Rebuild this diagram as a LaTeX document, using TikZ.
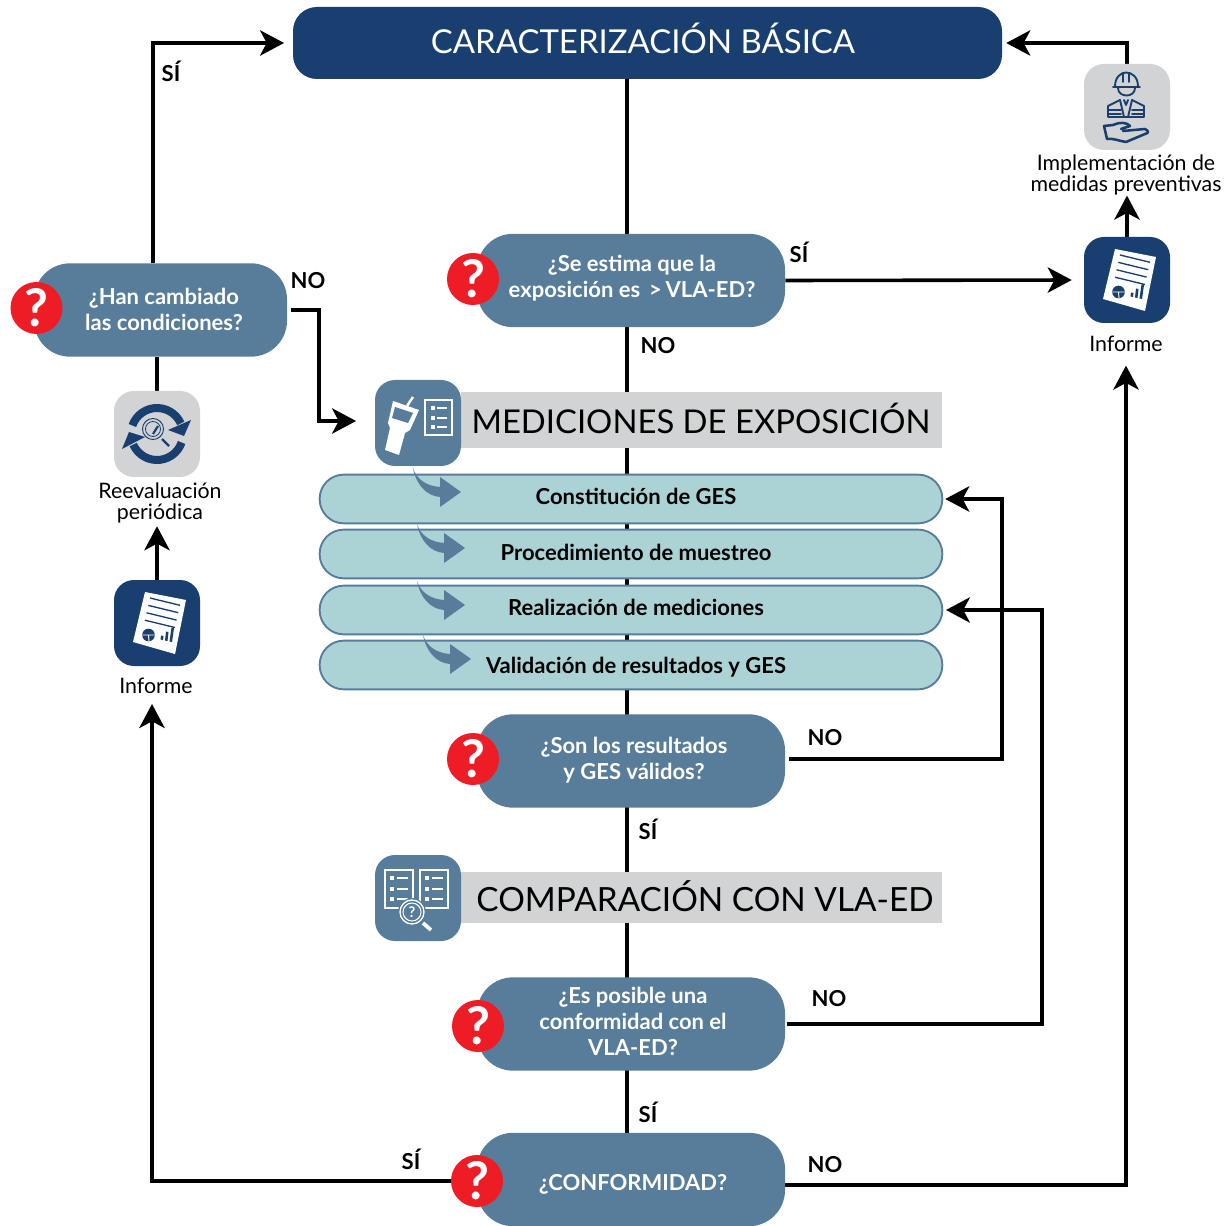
\documentclass[tikz,border=0pt]{standalone}
\usepackage{fontspec}
\setmainfont{Lato}
\usetikzlibrary{arrows.meta,calc,backgrounds}
\definecolor{navy}{HTML}{183F6F}
\definecolor{steel}{HTML}{577D9B}
\definecolor{pale}{HTML}{D1D3D4}
\definecolor{teal}{HTML}{ABD3D6}
\definecolor{qred}{HTML}{EE1C25}
\newcommand{\fs}[1]{\fontsize{#1}{#1}\selectfont}
\tikzset{
  x=0.75pt,y=-0.75pt,
  conn/.style={draw=black,line width=2.7pt},
  arr/.style={conn,-{Stealth[length=18pt,width=19pt,inset=5pt]}},
  iconbox/.style={rectangle,rounded corners=15pt,minimum width=64.5pt,minimum height=64.5pt,inner sep=0pt},
  decision/.style={rectangle,rounded corners=27pt,fill=steel,text=white,minimum height=70pt,inner sep=0pt,align=center,font=\fs{16.5}\bfseries,text depth=0pt},
  band/.style={rectangle,fill=pale,inner sep=0pt,minimum width=360.75pt},
  bar/.style={rectangle,rounded corners=18pt,fill=teal,draw=steel,line width=1.4pt,minimum width=467pt,minimum height=36.5pt,inner sep=0pt},
  bartext/.style={font=\fs{16.5}\bfseries,text=black,inner sep=0pt},
  lab/.style={font=\fs{16.5}\bfseries,text=black,inner sep=0pt},
  captxt/.style={font=\fs{16},text=black,inner sep=0pt,align=center},
  qmark/.style={circle,fill=qred,minimum size=39pt,inner sep=0pt,text=white,font=\fs{39}\bfseries},
  bend arrow/.pic={
    \fill[steel] (0,0) .. controls (3,16) and (13,28) .. (27,29) -- (27,39) -- (48,24) -- (27,9) -- (27,19)
      .. controls (14,18) and (4,12) .. (0,0) -- cycle;
  },
  report/.pic={
    \fill[white] (-12,-31) -- (29,-23) -- (18,31) -- (-24,19) -- cycle;
    \foreach \i in {0,1,2,3}
      \draw[navy,line width=1pt] ({-7-1.7*\i},{-25+7.4*\i}) -- ({23-1.7*\i},{-17.7+7.4*\i});
    \fill[navy] (-8.5,12) circle[radius=6.3];
    \draw[white,line width=.7pt] (-14.5,12) -- (-2.5,12) (-8.5,12) -- (-8,18);
    \fill[navy] (3.5,16.5) -- (6,17) -- (6.5,13) -- (4,12.5) -- cycle;
    \fill[navy] (8,17.5) -- (10.5,18) -- (11.5,9) -- (9,8.5) -- cycle;
    \fill[navy] (12.5,18.5) -- (15,19) -- (17,5) -- (14.5,4.5) -- cycle;
  },
  worker/.pic={
    \begin{scope}[navy,line width=1.4pt,line join=round,line cap=round]
      \draw (-12,-20.5) .. controls (-12,-30) and (-6,-34.5) .. (-1,-34.5) .. controls (5,-34.5) and (11,-30) .. (11,-20.5);
      \draw (-14,-20) -- (13,-20);
      \draw (-4,-34) -- (-4,-25) (2,-34) -- (2,-25);
      \draw (-9,-19) .. controls (-9,-9) and (8,-9) .. (8,-19);
      \draw (-7,-7) -- (-19,-1) -- (-19,10) -- (17,10) -- (17,-1) -- (5,-7);
      \draw (-19,3) -- (-6,3) (5,3) -- (17,3) (-19,7) -- (-6,7) (5,7) -- (17,7);
      \draw (-7,-7) -- (-3,10) (5,-7) -- (1,10) (-3,-7) -- (-1,-2) -- (1,-7);
      \draw[line width=1.9pt] (-6,22) -- (3,19) .. controls (0,15) and (-8,15) .. (-14,18) -- (-23,19) -- (-20,32)
        .. controls (-14,31) and (-8,34) .. (-1,35) -- (18,27) .. controls (22,26) and (22,24) .. (18,22) -- (-4,24);
    \end{scope}
  },
  cycle icon/.pic={
    \draw[navy,line width=6pt] plot[smooth,domain=199:336,samples=16] ({26*cos(\x)},{26*sin(\x)});
    \draw[navy,line width=6pt] plot[smooth,domain=19:156,samples=16] ({26*cos(\x)},{26*sin(\x)});
    \fill[navy] (34,-14) -- (11,-4) -- (27,2) -- cycle;
    \fill[navy] (-35,15) -- (-12,3) -- (-28,-2) -- cycle;
    \draw[navy,line width=.7pt] (-4,-5) circle[radius=10.5];
    \draw[navy,line width=.6pt] (-4,-5) circle[radius=7.5];
    \draw[navy,line width=1.6pt] (-4,0) -- (1,-8);
    \draw[navy,line width=1.8pt] (5,5) -- (12,12);
  },
  meter icon/.pic={
    \fill[white] (-25,-22) -- (1,-13) -- (-8,7) -- (-13,10) -- (-19,32) -- (-33,27) -- (-28,5) -- (-30,0) -- cycle;
    \fill[steel] (-23,-16) -- (-5,-10) -- (-10,0) -- (-26,-5) -- cycle;
    \draw[white,line width=1.8pt] (-11,-17) -- (-5,-26);
    \draw[white,line width=1pt] (7,-23) rectangle (34,12);
    \foreach \y in {-15,-5,4}{
      \fill[white] (13,\y-1.8) rectangle (17,\y+1.8);
      \draw[white,line width=.9pt] (19,\y) -- (29,\y);
    }
  },
  compare icon/.pic={
    \draw[white,line width=1pt] (-33,-28) rectangle (-5,10);
    \draw[white,line width=1pt] (2,-28) rectangle (30,10);
    \foreach \y in {-20,-9,1}{
      \fill[white] (-28,\y-1.8) rectangle (-24,\y+1.8);
      \draw[white,line width=.9pt] (-21,\y) -- (-10,\y);
      \fill[white] (7,\y-1.8) rectangle (11,\y+1.8);
      \draw[white,line width=.9pt] (14,\y) -- (25,\y);
    }
    \fill[steel] (-6,14) circle[radius=14];
    \draw[white,line width=1pt] (-6,14) circle[radius=12];
    \draw[white,line width=.8pt] (-6,14) circle[radius=9];
    \node[inner sep=0pt,text=white,font=\fs{11}\bfseries] (cmpq) at (-6,14) {?};
    \draw[white,line width=2.8pt] (5,25) -- (13,32);
  },
}
\begin{document}
\begin{tikzpicture}
\useasboundingbox (0,0) rectangle (1228,1226);

% title
\node[rectangle,rounded corners=18pt,fill=navy,minimum width=531.75pt,minimum height=54pt,inner sep=0pt] (title) at (647.5,43) {};
\node[text=white,font=\fs{24.7},inner sep=0pt] (titletxt) at (643,38.5) {CARACTERIZACIÓN BÁSICA};

% decisions
\node[decision,minimum width=231pt] (d1) at (631,280.5) {};
\node[decision,minimum width=189.75pt] (d0) at (160.5,310) {};
\node[decision,minimum width=231pt] (d2) at (631,761) {};
\node[decision,minimum width=231pt] (d3) at (631,1024) {};
\node[decision,minimum width=231pt] (d4) at (631,1179.5) {};
\node[font=\fs{16.5}\bfseries,text=white,align=center,inner sep=0pt] (t1) at (632,278) {¿Se estima que la\\[3pt]exposición es \,>\,VLA-ED?};
\node[font=\fs{16.5}\bfseries,text=white,align=center,inner sep=0pt] (t0) at (164,309) {¿Han cambiado\\[3pt]las condiciones?};
\node[font=\fs{16.5}\bfseries,text=white,align=center,inner sep=0pt] (t2) at (634,760) {¿Son los resultados\\[3pt]y GES válidos?};
\node[font=\fs{16.5}\bfseries,text=white,align=center,inner sep=0pt] (t3) at (633,1021) {¿Es posible una\\[3pt]conformidad con el\\[3pt]VLA-ED?};
\node[font=\fs{16.5}\bfseries,text=white,align=center,inner sep=0pt] (t4) at (633,1184) {¿CONFORMIDAD?};

\node[qmark] (q1) at (473,279) {?};
\node[qmark] (q0) at (36.5,308) {?};
\node[qmark] (q2) at (473,759) {?};
\node[qmark] (q3) at (478,1026) {?};
\node[qmark] (q4) at (477,1181) {?};

% section bands
\node[band,minimum height=42pt] (band1) at (701.5,420) {};
\node[band,minimum height=38.25pt] (band2) at (701.5,897.5) {};
\node[iconbox,fill=steel] (med) at (418,423) {};
\node[iconbox,fill=steel] (cmp) at (418,898) {};
\pic at (418,423) {meter icon};
\pic at (418,898) {compare icon};
\node[font=\fs{24.6},text=black,inner sep=0pt] (medtxt) at (701,418) {MEDICIONES DE EXPOSICIÓN};
\node[font=\fs{25},text=black,inner sep=0pt] (cmptxt) at (705,896.5) {COMPARACIÓN CON VLA-ED};

% bars
\node[bar] (bar1) at (631,499) {};
\node[bar] (bar2) at (631,554) {};
\node[bar] (bar3) at (631,610) {};
\node[bar] (bar4) at (631,665) {};
\node[bartext] (bt1) at (636,496) {Constitución de GES};
\node[bartext] (bt2) at (636,552) {Procedimiento de muestreo};
\node[bartext] (bt3) at (636,607) {Realización de mediciones};
\node[bartext] (bt4) at (636,667) {Validación de resultados y GES};
\pic at (413,468) {bend arrow};
\pic at (417,524) {bend arrow};
\pic at (417,581) {bend arrow};
\pic at (423,635) {bend arrow};

% right column
\node[iconbox,fill=pale] (impl) at (1127,107) {};
\pic at (1127,107) {worker};
\node[captxt] (impltxt) at (1126,175) {Implementación de\\medidas preventivas};
\node[iconbox,fill=navy] (inf) at (1127,280) {};
\pic at (1127,280) {report};
\node[captxt,minimum height=16pt] (inftxt) at (1126,344) {Informe};

% left column
\node[iconbox,fill=pale] (reev) at (157,434) {};
\pic at (157,434) {cycle icon};
\node[captxt] (reevtxt) at (160,503) {Reevaluación\\periódica};
\node[iconbox,fill=navy] (linf) at (157,623) {};
\pic at (157,623) {report};
\node[captxt] (linftxt) at (156,686) {Informe};

% labels
\node[lab] (l1) at (171,71) {SÍ};
\node[lab] (l2) at (308,281) {NO};
\node[lab] (l3) at (799,252) {SÍ};
\node[lab] (l4) at (658,346) {NO};
\node[lab] (l5) at (825,738) {NO};
\node[lab] (l6) at (648,829) {SÍ};
\node[lab] (l7) at (829,999) {NO};
\node[lab] (l8) at (648,1112) {SÍ};
\node[lab] (l9) at (411,1159) {SÍ};
\node[lab] (l10) at (825,1165) {NO};

% routing points
\coordinate (cx) at (627,0);
\coordinate (sx) at (153,0);
\coordinate (b0) at (319,421);
\coordinate (b2) at (1002,499);
\coordinate (b3) at (1042,610);
\coordinate (b4) at (152,704);

\begin{scope}[on background layer]
  \draw[conn] (title.south -| cx) -- (d4.north -| cx);
  \draw[arr,shorten >=6.5pt] (sx |- d0.north) |- (title.west);
  \draw[arr,shorten >=3pt] (impl.north) |- (title.east);
  \draw[arr,shorten >=9pt] (d1.east) -- (inf.west);
  \draw[arr] (inf.north) -- (inf.north |- impltxt.south);
  \draw[conn] (reev.north) -- (reev.north |- d0.south);
  \draw[arr,shorten >=2pt] (linf.north) -- (linf.north |- reevtxt.south);
  \draw[arr,shorten <=3pt,shorten >=14pt] (d0.east) -| (b0) -- (b0 -| med.west);
  \draw[arr,shorten <=3pt,shorten >=1.5pt] ($(d2.east)+(0,-2)$) -| (b2) -- (bar1.east);
  \draw[arr,shorten <=1pt,shorten >=2pt] (d3.east) -| (b3) -- (bar3.east);
  \draw[arr,shorten >=8pt] ($(d4.east)+(0,5.5)$) -| (inftxt.south);
  \draw[arr] (q4.west) -| (b4);
\end{scope}
\end{tikzpicture}
\end{document}
